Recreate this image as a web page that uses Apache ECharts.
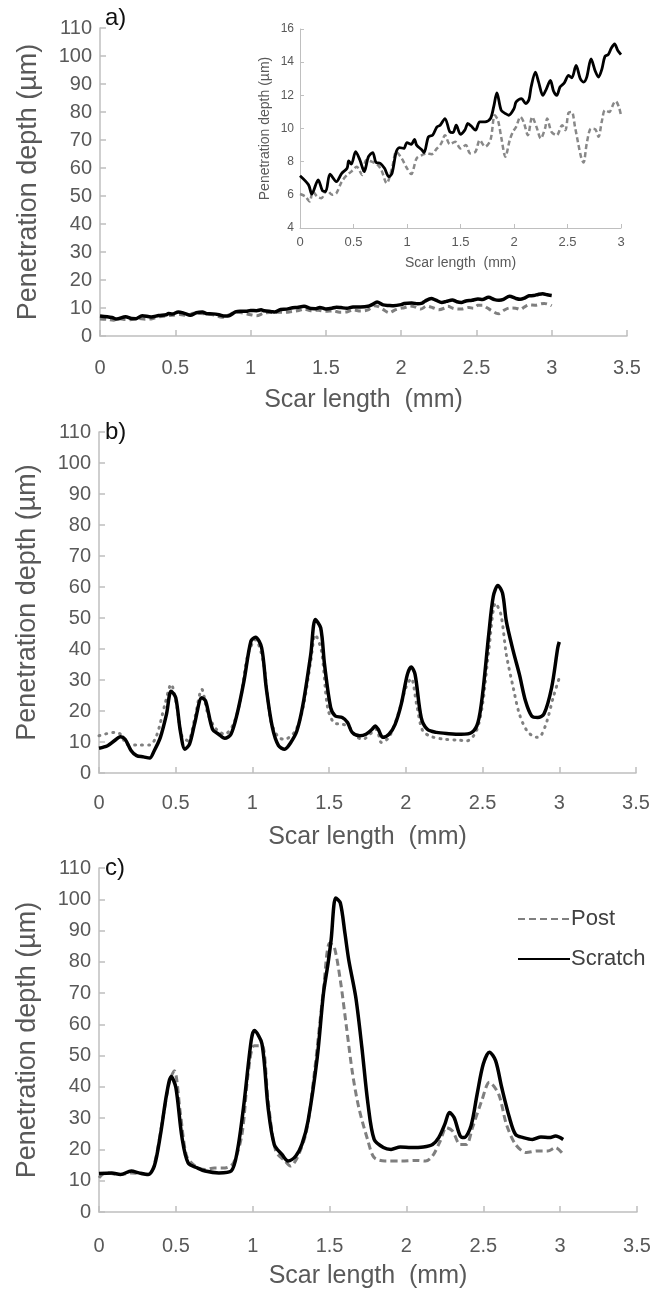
<!DOCTYPE html>
<html><head><meta charset="utf-8">
<script src="https://cdn.jsdelivr.net/npm/echarts@6/dist/echarts.min.js"></script>
<style>html,body{margin:0;padding:0;background:#fff}#c{width:670px;height:1292px}</style>
</head><body><div id="c"></div>
<script>
// ---------- DATA ----------
const xTicks = [0, 0.5, 1, 1.5, 2, 2.5, 3, 3.5];
const yTicksMain = [0, 110, 10];   // min, max, step
const yTicksInset = [4, 16, 2];
const xLabel = 'Scar length  (mm)';
const yLabel = 'Penetration depth (µm)';
const seriesNames = ['Post', 'Scratch'];

// Panel a (also shown in inset): [mm, µm]
const scratchA = [[0,7.15],[0.08,6.6],[0.11,6.05],[0.17,6.9],[0.21,6.25],[0.24,6.2],[0.28,7.25],[0.34,6.8],[0.39,7.3],[0.44,7.6],[0.455,8.05],[0.48,7.85],[0.52,8.6],[0.56,8.1],[0.6,7.4],[0.64,8.3],[0.68,8.55],[0.71,7.95],[0.75,7.9],[0.79,7.6],[0.83,7.1],[0.86,7.3],[0.9,8.6],[0.93,8.85],[0.97,8.8],[1.0,9.15],[1.04,9.05],[1.07,9.35],[1.09,9.0],[1.14,8.7],[1.16,8.55],[1.2,9.5],[1.24,9.6],[1.28,10.1],[1.31,10.2],[1.355,10.6],[1.4,9.8],[1.43,9.75],[1.46,10.2],[1.5,9.65],[1.54,9.9],[1.57,10.3],[1.6,10.15],[1.64,9.9],[1.68,10.4],[1.73,10.4],[1.78,10.6],[1.81,11.3],[1.84,12.15],[1.88,11.1],[1.92,10.9],[1.95,10.8],[2.0,11.2],[2.02,11.6],[2.07,11.8],[2.11,11.5],[2.14,11.75],[2.16,12.5],[2.2,13.4],[2.23,12.8],[2.27,12.0],[2.3,12.35],[2.34,12.9],[2.37,12.25],[2.4,12.0],[2.43,12.5],[2.47,12.75],[2.51,13.2],[2.54,13.05],[2.58,13.8],[2.62,13.0],[2.65,12.8],[2.68,13.1],[2.72,14.2],[2.76,13.45],[2.79,13.1],[2.82,13.55],[2.85,14.35],[2.88,14.45],[2.91,14.85],[2.94,15.1],[2.97,14.7],[3.0,14.45]];
const postA = [[0,6.05],[0.05,5.9],[0.09,5.6],[0.12,6.2],[0.16,5.9],[0.2,5.8],[0.25,6.3],[0.3,6.0],[0.34,6.1],[0.39,6.8],[0.44,7.2],[0.48,7.4],[0.53,7.7],[0.58,7.2],[0.62,8.1],[0.67,8.0],[0.72,7.85],[0.76,7.5],[0.81,6.7],[0.86,7.6],[0.9,8.6],[0.95,8.2],[1.0,7.6],[1.04,7.25],[1.09,8.2],[1.14,8.4],[1.18,8.5],[1.23,8.45],[1.28,8.8],[1.32,9.1],[1.355,9.6],[1.4,9.05],[1.45,9.2],[1.5,8.8],[1.55,9.0],[1.59,8.5],[1.64,8.6],[1.68,9.3],[1.73,8.9],[1.78,9.3],[1.82,10.8],[1.85,10.5],[1.88,9.5],[1.92,8.3],[1.96,9.3],[1.99,9.8],[2.02,10.1],[2.06,10.7],[2.09,10.4],[2.13,9.6],[2.17,10.7],[2.21,10.1],[2.25,9.4],[2.29,10.0],[2.31,10.6],[2.35,9.8],[2.4,9.6],[2.45,10.2],[2.48,9.9],[2.51,10.95],[2.54,11.0],[2.57,10.1],[2.6,9.1],[2.63,8.2],[2.65,7.95],[2.68,9.1],[2.72,10.0],[2.76,9.95],[2.79,9.5],[2.82,10.4],[2.85,11.1],[2.89,11.0],[2.93,11.5],[2.95,11.65],[2.98,11.3],[3.0,10.8]];

// Panel b
const scratchB = [[0,8.0],[0.056,8.8],[0.1,10.4],[0.14,11.7],[0.17,10.9],[0.21,7.2],[0.245,5.6],[0.29,5.2],[0.33,4.8],[0.36,7.2],[0.4,11.5],[0.44,19],[0.47,26.4],[0.5,24.3],[0.53,13.6],[0.56,7.7],[0.59,9.3],[0.625,16.3],[0.67,24.3],[0.695,23.2],[0.74,14.1],[0.78,12.5],[0.82,11.2],[0.86,12.5],[0.9,19],[0.945,29.7],[0.99,42.5],[1.02,43.8],[1.06,40.4],[1.09,27.5],[1.13,14.7],[1.17,8.8],[1.21,7.7],[1.25,9.85],[1.29,13.6],[1.33,22.2],[1.38,38.2],[1.41,49.5],[1.445,46.8],[1.47,35],[1.51,21.1],[1.54,18.4],[1.585,17.9],[1.62,16.3],[1.65,13.1],[1.7,12],[1.74,12.5],[1.78,14.1],[1.8,15.2],[1.82,14.1],[1.85,11.5],[1.89,12.5],[1.93,15.7],[1.97,22.2],[2.01,31.8],[2.035,34.2],[2.06,31.8],[2.1,17.9],[2.14,14.1],[2.2,13.1],[2.28,12.7],[2.36,12.5],[2.43,13.1],[2.47,16.3],[2.5,25.4],[2.54,44.6],[2.57,57],[2.6,60.5],[2.63,58],[2.655,48.9],[2.7,39.3],[2.74,31.8],[2.78,23.2],[2.82,18.4],[2.86,17.9],[2.9,19],[2.95,27.5],[2.99,40.4],[3.0,42.3]];
const postB = [[0,12],[0.1,13.1],[0.14,12.5],[0.18,9.3],[0.25,9.0],[0.33,9.0],[0.375,12],[0.43,22.2],[0.47,28.6],[0.505,22.2],[0.54,12],[0.58,10.4],[0.625,17.9],[0.67,27],[0.71,19],[0.765,14.1],[0.82,12.5],[0.875,15.7],[0.92,23.2],[0.97,38.2],[1.02,43],[1.07,36],[1.12,16.8],[1.17,11.5],[1.21,10.9],[1.28,13.6],[1.33,21.1],[1.38,36],[1.41,44.6],[1.45,39.3],[1.49,21.1],[1.53,16.3],[1.585,15.7],[1.625,15.2],[1.67,12],[1.72,10.9],[1.78,13.1],[1.81,14.1],[1.84,9.85],[1.89,11.5],[1.95,19],[2.0,27.5],[2.035,30.5],[2.07,22.2],[2.11,13.6],[2.17,11.7],[2.25,10.9],[2.34,10.6],[2.4,10.4],[2.46,13.6],[2.5,22.2],[2.54,39.3],[2.585,54.8],[2.62,51],[2.655,38.2],[2.7,27.5],[2.74,19],[2.79,13.6],[2.85,11.5],[2.88,12],[2.92,16.8],[2.96,24.3],[3.0,30.7]];

// Panel c
const scratchC = [[0,12.3],[0.083,12.5],[0.14,12],[0.21,13.1],[0.26,12.5],[0.32,12],[0.36,14.7],[0.4,24.8],[0.44,37.7],[0.47,43.3],[0.5,39.8],[0.54,23.8],[0.58,15.7],[0.64,14.1],[0.69,13.1],[0.78,12.5],[0.86,13.1],[0.9,19.5],[0.94,33.4],[0.99,54.8],[1.01,58],[1.06,53.8],[1.1,33.4],[1.14,21.6],[1.19,18.4],[1.23,16.3],[1.28,17.9],[1.32,21.6],[1.36,29.1],[1.42,49.5],[1.46,69.8],[1.49,79.5],[1.51,87],[1.54,100.4],[1.57,98.8],[1.6,89.1],[1.625,80.5],[1.67,68.8],[1.71,52.7],[1.75,34.5],[1.79,23.2],[1.85,20.6],[1.9,20],[1.96,20.8],[2.03,20.6],[2.11,20.8],[2.17,21.6],[2.21,23.8],[2.25,28.1],[2.28,31.8],[2.31,30.2],[2.35,24.3],[2.375,23.8],[2.42,27.5],[2.46,37.7],[2.5,47.3],[2.54,51.1],[2.58,48.4],[2.62,39.8],[2.67,30.2],[2.71,24.8],[2.76,23.8],[2.82,23.2],[2.875,24],[2.93,23.8],[2.97,24.3],[3.02,23.2]];
const postC = [[0,10.9],[0.04,12.5],[0.14,12],[0.21,12.5],[0.32,12],[0.36,15.2],[0.42,31.3],[0.46,42],[0.49,45.2],[0.53,31.3],[0.57,17.9],[0.625,14.7],[0.69,13.6],[0.75,14.1],[0.82,14.1],[0.875,15.7],[0.93,24.8],[0.97,44.1],[1.01,53.2],[1.06,53.2],[1.1,35.6],[1.15,19.5],[1.21,16.3],[1.245,14.7],[1.29,17.4],[1.35,25.9],[1.4,44.1],[1.46,70.9],[1.5,85.9],[1.53,84.8],[1.57,74.1],[1.61,59.1],[1.65,44.1],[1.69,33.4],[1.75,22.7],[1.79,17.4],[1.86,16.3],[1.97,16.3],[2.07,16.5],[2.125,16.3],[2.17,17.9],[2.22,22.7],[2.26,27],[2.3,25.9],[2.35,21.6],[2.39,21.6],[2.43,27],[2.49,35.6],[2.54,41.5],[2.6,37.7],[2.65,28.1],[2.71,21.6],[2.78,19],[2.85,19.5],[2.92,19.5],[2.97,20.6],[3.02,18.4]];

// ---------- CHART ----------
const FONT = "'Liberation Sans',Arial,sans-serif";
const GREY_TXT = '#595959';
const AXIS_COL = '#bfbfbf';
const POST_COL = '#7f7f7f';

function xAxisMain(gi, margin) {
  return {
    type: 'value', gridIndex: gi, min: xTicks[0], max: xTicks[xTicks.length - 1],
    interval: xTicks[1] - xTicks[0],
    splitLine: { show: false },
    axisLine: { show: true, lineStyle: { color: AXIS_COL, width: 1.5 } },
    axisTick: { show: true, inside: true, length: 6, lineStyle: { color: AXIS_COL, width: 1.5 } },
    axisLabel: { color: GREY_TXT, fontSize: 20, fontFamily: FONT, margin: margin },
    name: xLabel, nameLocation: 'middle', nameGap: 52,
    nameTextStyle: { color: GREY_TXT, fontSize: 25, fontFamily: FONT }
  };
}
function yAxisMain(gi) {
  return {
    type: 'value', gridIndex: gi, min: yTicksMain[0], max: yTicksMain[1], interval: yTicksMain[2],
    splitLine: { show: false },
    axisLine: { show: true, lineStyle: { color: AXIS_COL, width: 1.5 } },
    axisTick: { show: true, inside: true, length: 6, lineStyle: { color: AXIS_COL, width: 1.5 } },
    axisLabel: { color: GREY_TXT, fontSize: 20, fontFamily: FONT, margin: 8 },
    name: yLabel, nameLocation: 'middle', nameGap: 58,
    nameTextStyle: { color: GREY_TXT, fontSize: 27, fontFamily: FONT }
  };
}

const option = {
  animation: false,
  backgroundColor: '#fff',
  grid: [
    { left: 100, right: 43, top: 28, height: 308 },       // a
    { left: 300, right: 49, top: 29, height: 199 },       // inset
    { left: 99, right: 34, top: 432, height: 341 },       // b
    { left: 99, right: 33, top: 868, height: 344 }        // c
  ],
  xAxis: [
    xAxisMain(0, 22),
    {
      type: 'value', gridIndex: 1, min: 0, max: 3, interval: 0.5,
      splitLine: { show: false },
      axisLine: { show: true, lineStyle: { color: AXIS_COL, width: 1 } },
      axisTick: { show: true, inside: true, length: 4, lineStyle: { color: AXIS_COL } },
      axisLabel: { color: GREY_TXT, fontSize: 13, fontFamily: FONT, margin: 8 },
      name: xLabel, nameLocation: 'middle', nameGap: 28,
      nameTextStyle: { color: GREY_TXT, fontSize: 14, fontFamily: FONT }
    },
    xAxisMain(2, 20),
    xAxisMain(3, 24)
  ],
  yAxis: [
    yAxisMain(0),
    {
      type: 'value', gridIndex: 1, min: yTicksInset[0], max: yTicksInset[1], interval: yTicksInset[2],
      splitLine: { show: false },
      axisLine: { show: true, lineStyle: { color: AXIS_COL, width: 1 } },
      axisTick: { show: true, inside: true, length: 4, lineStyle: { color: AXIS_COL } },
      axisLabel: { color: GREY_TXT, fontSize: 12, fontFamily: FONT, margin: 6 },
      name: yLabel, nameLocation: 'middle', nameGap: 28,
      nameTextStyle: { color: GREY_TXT, fontSize: 14, fontFamily: FONT }
    },
    yAxisMain(2),
    yAxisMain(3)
  ],
  legend: {
    data: seriesNames, orient: 'vertical', left: 512, top: 903, itemGap: 18,
    itemWidth: 52, itemHeight: 14,
    itemStyle: { opacity: 0, borderWidth: 0 },
    lineStyle: { inactiveWidth: 3 },
    textStyle: { color: '#404040', fontSize: 22, fontFamily: FONT, padding: [0, 0, 0, -4] }
  },
  graphic: [
    { type: 'text', left: 105, top: 6, style: { text: 'a)', fontSize: 24, fill: '#111', fontFamily: 'Liberation Sans, Arial' } },
    { type: 'text', left: 105, top: 420, style: { text: 'b)', fontSize: 24, fill: '#111', fontFamily: 'Liberation Sans, Arial' } },
    { type: 'text', left: 105, top: 856, style: { text: 'c)', fontSize: 24, fill: '#111', fontFamily: 'Liberation Sans, Arial' } }
  ],
  series: [
    { name: 'Post', type: 'line', xAxisIndex: 3, yAxisIndex: 3, data: postC, showSymbol: false, symbol: 'none', smooth: 0.3,
      lineStyle: { color: POST_COL, width: 3, type: [7, 4] }, itemStyle: { color: POST_COL } },
    { name: 'Scratch', type: 'line', xAxisIndex: 3, yAxisIndex: 3, data: scratchC, showSymbol: false, symbol: 'none', smooth: 0.3,
      lineStyle: { color: '#000', width: 3.5 }, itemStyle: { color: '#000' } },

    { name: 'Post a', type: 'line', xAxisIndex: 0, yAxisIndex: 0, data: postA, showSymbol: false, symbol: 'none', smooth: 0.3,
      lineStyle: { color: POST_COL, width: 3, type: [6, 4] } },
    { name: 'Scratch a', type: 'line', xAxisIndex: 0, yAxisIndex: 0, data: scratchA, showSymbol: false, symbol: 'none', smooth: 0.3,
      lineStyle: { color: '#000', width: 3.5 } },

    { name: 'Post inset', type: 'line', xAxisIndex: 1, yAxisIndex: 1, data: postA, showSymbol: false, symbol: 'none', smooth: 0.3,
      lineStyle: { color: '#888', width: 2.5, type: [5, 3] } },
    { name: 'Scratch inset', type: 'line', xAxisIndex: 1, yAxisIndex: 1, data: scratchA, showSymbol: false, symbol: 'none', smooth: 0.3,
      lineStyle: { color: '#000', width: 2.8 } },

    { name: 'Post b', type: 'line', xAxisIndex: 2, yAxisIndex: 2, data: postB, showSymbol: false, symbol: 'none', smooth: 0.3,
      lineStyle: { color: '#808080', width: 3, type: [1, 6], cap: 'round' } },
    { name: 'Scratch b', type: 'line', xAxisIndex: 2, yAxisIndex: 2, data: scratchB, showSymbol: false, symbol: 'none', smooth: 0.3,
      lineStyle: { color: '#000', width: 3.5 } }
  ]
};
const chart = echarts.init(document.getElementById('c'), null, { renderer: 'canvas' });
chart.setOption(option);
</script></body></html>
